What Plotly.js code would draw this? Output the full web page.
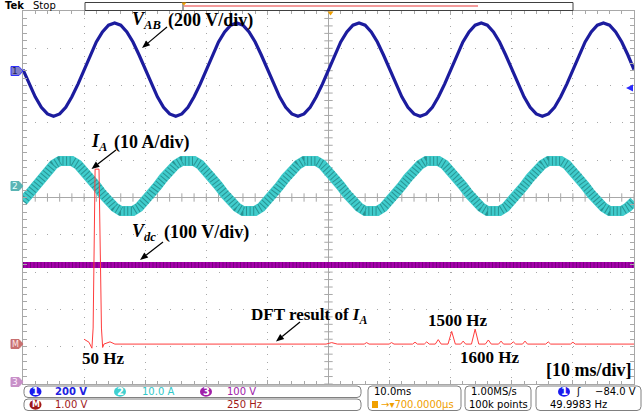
<!DOCTYPE html>
<html><head><meta charset="utf-8">
<script src="https://cdn.plot.ly/plotly-3.0.1.min.js"></script>
<style>html,body{margin:0;padding:0;background:#fff}#chart{width:644px;height:412px}</style>
</head><body><div id="chart"></div>
<script>
// ---------- data (in screen divisions) ----------
const t_ms = [0,1,2,3,4,5,6,7,8,9,10,11,12,13,14,15,16,17,18,19,20,21,22,23,24,25,26,27,28,29,30,31,32,33,34,35,36,37,38,39,40,41,42,43,44,45,46,47,48,49,50,51,52,53,54,55,56,57,58,59,60,61,62,63,64,65,66,67,68,69,70,71,72,73,74,75,76,77,78,79,80,81,82,83,84,85,86,87,88,89,90,91,92,93,94,95,96,97,98,99,100];
const vab_div = [3.43,3.04,2.70,2.42,2.24,2.18,2.24,2.42,2.70,3.04,3.43,3.82,4.17,4.44,4.62,4.68,4.62,4.44,4.17,3.82,
3.43,3.04,2.70,2.42,2.24,2.18,2.24,2.42,2.70,3.04,3.43,3.82,4.17,4.44,4.62,4.68,4.62,4.44,4.17,3.82,
3.43,3.04,2.70,2.42,2.24,2.18,2.24,2.42,2.70,3.04,3.43,3.82,4.17,4.44,4.62,4.68,4.62,4.44,4.17,3.82,
3.43,3.04,2.70,2.42,2.24,2.18,2.24,2.42,2.70,3.04,3.43,3.82,4.17,4.44,4.62,4.68,4.62,4.44,4.17,3.82,
3.43,3.04,2.70,2.42,2.24,2.18,2.24,2.42,2.70,3.04,3.43,3.82,4.17,4.44,4.62,4.68,4.62,4.44,4.17,3.82,3.43];
const ia_div = [-0.10,0.09,0.31,0.53,0.72,0.88,0.98,1.01,0.98,0.88,0.72,0.53,0.31,0.09,-0.10,-0.26,-0.36,-0.39,-0.36,-0.26,
-0.10,0.09,0.31,0.53,0.72,0.88,0.98,1.01,0.98,0.88,0.72,0.53,0.31,0.09,-0.10,-0.26,-0.36,-0.39,-0.36,-0.26,
-0.10,0.09,0.31,0.53,0.72,0.88,0.98,1.01,0.98,0.88,0.72,0.53,0.31,0.09,-0.10,-0.26,-0.36,-0.39,-0.36,-0.26,
-0.10,0.09,0.31,0.53,0.72,0.88,0.98,1.01,0.98,0.88,0.72,0.53,0.31,0.09,-0.10,-0.26,-0.36,-0.39,-0.36,-0.26,
-0.10,0.09,0.31,0.53,0.72,0.88,0.98,1.01,0.98,0.88,0.72,0.53,0.31,0.09,-0.10,-0.26,-0.36,-0.39,-0.36,-0.26,-0.10];
const t_vdc = [0,10,20,30,40,50,60,70,80,90,100];
const vdc_div = [-1.81,-1.81,-1.81,-1.81,-1.81,-1.81,-1.81,-1.81,-1.81,-1.81,-1.81];
const dft_hz = [0,20,32,37,45,61,71,76,81,106,126,
  500,990,1013,1036,1146,1156,1166,1248,1258,1268,1344,1354,1364,1392,1402,1412,1437,1449,1461,
  1489,1504,1519,1541,1551,1561,1585,1600,1615,1642,1654,1666,1696,1706,1716,1746,1756,1766,
  1794,1804,1814,1889,1899,1909,1990,2000,2010,2250];
const dft_div = [-3.80,-3.88,-4.04,-3.50,0.76,0.76,-3.50,-4.02,-3.93,-3.87,-3.93,
  -3.93,-3.93,-3.89,-3.93,-3.93,-3.89,-3.93,-3.93,-3.89,-3.93,-3.93,-3.88,-3.93,-3.93,-3.87,-3.93,-3.93,-3.81,-3.93,
  -3.93,-3.59,-3.93,-3.93,-3.85,-3.93,-3.93,-3.53,-3.93,-3.93,-3.82,-3.93,-3.93,-3.85,-3.93,-3.93,-3.87,-3.93,
  -3.93,-3.85,-3.93,-3.93,-3.87,-3.93,-3.93,-3.88,-3.93,-3.93];

// ---------- geometry helpers (pixel -> paper) ----------
const L=23,R=634,T=11,B=384;
const X = x => (x-L)/(R-L);
const Y = y => (B-y)/(B-T);
const GRID = '#a8a8a8';

// centre-line tick marks (decoration)
const cx=[], cy=[], vx=[], vy=[];
for(let i=0;i<=50;i++){cx.push(i*2);cy.push(0);}
for(let i=0;i<=50;i++){vx.push(50);vy.push(-5+i*0.2);}

const traces = [
  {x:cx,y:cy,mode:'markers',marker:{symbol:'line-ns',size:6,line:{color:GRID,width:1}},hoverinfo:'skip'},
  {x:vx,y:vy,mode:'markers',marker:{symbol:'line-ew',size:6,line:{color:GRID,width:1}},hoverinfo:'skip'},
  {x:t_vdc,y:vdc_div,mode:'lines',line:{color:'#a400aa',width:6},hoverinfo:'skip'},
  {x:t_vdc,y:vdc_div,mode:'lines',line:{color:'rgba(70,0,80,0.45)',width:6,dash:'1px,2.5px'},hoverinfo:'skip'},
  {x:dft_hz,y:dft_div,xaxis:'x2',mode:'lines',line:{color:'#ff3c3c',width:1},hoverinfo:'skip'},
  {x:t_ms,y:ia_div,mode:'lines',line:{color:'#40cccc',width:10},hoverinfo:'skip'},
  {x:t_ms,y:ia_div,mode:'lines',line:{color:'rgba(20,100,100,0.55)',width:9,dash:'1px,2.6px'},hoverinfo:'skip'},
  {x:t_ms,y:vab_div,mode:'lines',line:{color:'#1c1c9e',width:3.2},hoverinfo:'skip'}
];

function rr(x0,y0,x1,y1,r){
  return `M${X(x0+r)},${Y(y0)} L${X(x1-r)},${Y(y0)} Q${X(x1)},${Y(y0)} ${X(x1)},${Y(y0+r)} L${X(x1)},${Y(y1-r)} Q${X(x1)},${Y(y1)} ${X(x1-r)},${Y(y1)} L${X(x0+r)},${Y(y1)} Q${X(x0)},${Y(y1)} ${X(x0)},${Y(y1-r)} L${X(x0)},${Y(y0+r)} Q${X(x0)},${Y(y0)} ${X(x0+r)},${Y(y0)} Z`;
}
function pent(yc,fill,line){
  const x0=11,x1=19,x2=23,h=4.5;
  return {type:'path',xref:'paper',yref:'paper',path:`M${X(x0)},${Y(yc-h)} L${X(x1)},${Y(yc-h)} L${X(x2)},${Y(yc)} L${X(x1)},${Y(yc+h)} L${X(x0)},${Y(yc+h)} Z`,fillcolor:fill,line:{color:line,width:1}};
}
function pill(xc,yc,fill){
  return {type:'circle',xref:'paper',yref:'paper',x0:X(xc-6),x1:X(xc+6),y0:Y(yc+5),y1:Y(yc-5),fillcolor:fill,line:{width:0}};
}
function tri(pts,fill){
  return {type:'path',xref:'paper',yref:'paper',path:'M'+pts.map(p=>X(p[0])+','+Y(p[1])).join(' L')+' Z',fillcolor:fill,line:{width:0}};
}
// arrow drawn as a line + filled head (head at hx,hy; tail at tx,ty)
function arrowShapes(hx,hy,tx,ty){
  const dx=hx-tx, dy=hy-ty, len=Math.hypot(dx,dy), ux=dx/len, uy=dy/len;
  const hl=8, hw=3.2;
  const bx=hx-ux*hl, by=hy-uy*hl;
  return [
    {type:'line',xref:'paper',yref:'paper',x0:X(tx),y0:Y(ty),x1:X(bx),y1:Y(by),line:{color:'#000',width:1.2}},
    tri([[hx,hy],[bx-uy*hw,by+ux*hw],[bx+uy*hw,by-ux*hw]],'#000')
  ];
}

const shapes = [
  // centre cross lines
  {type:'line',xref:'x',yref:'y',x0:0,x1:100,y0:0,y1:0,line:{color:GRID,width:1},layer:'below'},
  {type:'line',xref:'x',yref:'y',x0:50,x1:50,y0:-5,y1:5,line:{color:GRID,width:1},layer:'below'},
  // record bar
  {type:'rect',xref:'paper',yref:'paper',x0:X(85),x1:X(573),y0:Y(10.5),y1:Y(2.5),line:{color:'#404040',width:1},fillcolor:'#fff'},
  {type:'line',xref:'paper',yref:'paper',x0:X(183),x1:X(183),y0:Y(10.5),y1:Y(2.5),line:{color:'#404040',width:1}},
  {type:'line',xref:'paper',yref:'paper',x0:X(184),x1:X(478),y0:Y(6),y1:Y(6),line:{color:'#f07878',width:1.5}},
  tri([[181.5,2.5],[186.5,2.5],[184,5.5]],'#f0a000'),
  tri([[327.5,11.5],[333.5,11.5],[330.5,15.5]],'#f0a000'),
  // trigger level arrow (right)
  tri([[626,88],[633,84.5],[633,91.5]],'#2a2aff'),
  // channel markers
  pent(71,'#8080c8','#3030ff'),
  pent(186,'#5ab4b4','#5ab4b4'),
  pent(344,'#c87070','#c87070'),
  pent(382,'#c890c8','#c890c8'),
  // status bar boxes
  {type:'path',xref:'paper',yref:'paper',path:rr(24,386,361,397.5,4),line:{color:'#808080',width:1},fillcolor:'#fff'},
  {type:'path',xref:'paper',yref:'paper',path:rr(24,399,361,410.5,4),line:{color:'#808080',width:1},fillcolor:'#fff'},
  {type:'path',xref:'paper',yref:'paper',path:rr(368,386,461,410.5,4),line:{color:'#808080',width:1},fillcolor:'#fff'},
  {type:'path',xref:'paper',yref:'paper',path:rr(465,386,531,410.5,4),line:{color:'#808080',width:1},fillcolor:'#fff'},
  {type:'path',xref:'paper',yref:'paper',path:rr(536,386,641,410.5,4),line:{color:'#808080',width:1},fillcolor:'#fff'},
  pill(35.5,391.7,'#1a1aee'),
  pill(120,391.7,'#40d0d0'),
  pill(206,391.7,'#a020a8'),
  pill(35.5,404.7,'#a01818'),
  pill(564,391.7,'#1a1aee'),
  {type:'rect',xref:'paper',yref:'paper',x0:X(372),x1:X(378),y0:Y(408),y1:Y(401),fillcolor:'#f0a000',line:{width:0}}
].concat(arrowShapes(142,48,167,27), arrowShapes(91.5,169,116,150), arrowShapes(140,260,163,242), arrowShapes(276,341.5,300,322));

const SERIF='Liberation Serif, Times New Roman, serif';
const SANS='DejaVu Sans, sans-serif';
function txt(x,y,text,o){
  return Object.assign({xref:'paper',yref:'paper',x:X(x),y:Y(y),text:text,showarrow:false,xanchor:'left',yanchor:'middle',
    font:{family:SERIF,size:18,color:'#000'}},o||{});
}
function st(x,y,text,color,o){
  return txt(x,y,text,Object.assign({font:{family:SANS,size:10,color:color}},o||{}));
}

const annotations = [
  txt(3,6,'<b>Tek</b>',{font:{family:SANS,size:10,color:'#000'}}),
  txt(31,6,'Stop',{font:{family:SANS,size:10,color:'#000'}}),
  txt(130,20,'<b><i>V</i><sub><i>AB</i></sub></b>'),
  txt(166,20,'<b>(200 V/div)</b>'),
  txt(89,142.5,'<b><i>I</i><sub><i>A</i></sub></b>'),
  txt(112,142.5,'<b>(10 A/div)</b>'),
  txt(130,233,'<b><i>V</i><sub><i>dc</i></sub></b>'),
  txt(162,233,'<b>(100 V/div)</b>'),
  txt(249,316,'<b>DFT result of <i>I</i><sub><i>A</i></sub></b>',{font:{family:SERIF,size:17,color:'#000'}}),
  txt(426,320,'<b>1500 Hz</b>',{font:{family:SERIF,size:17,color:'#000'}}),
  txt(458,357,'<b>1600 Hz</b>',{font:{family:SERIF,size:17,color:'#000'}}),
  txt(80,358,'<b>50 Hz</b>',{font:{family:SERIF,size:17,color:'#000'}}),
  txt(544,370,'<b>[10 ms/div]</b>'),
  // channel marker labels
  txt(15,71,'1',{xanchor:'center',font:{family:SANS,size:9,color:'#202060'}}),
  txt(15,186,'2',{xanchor:'center',font:{family:SANS,size:9,color:'#e8ffff'}}),
  txt(15,344,'M',{xanchor:'center',font:{family:SANS,size:8,color:'#ffe8e8'}}),
  txt(15,382,'3',{xanchor:'center',font:{family:SANS,size:9,color:'#fff0ff'}}),
  // status bar
  st(35.5,391.7,'<b>1</b>','#fff',{xanchor:'center'}),
  st(53,391.7,'<b>200 V</b>','#2020e0'),
  st(120,391.7,'<b>2</b>','#fff',{xanchor:'center'}),
  st(140,391.7,'10.0 A','#30c8c8'),
  st(206,391.7,'<b>3</b>','#fff',{xanchor:'center'}),
  st(225,391.7,'100 V','#a020a8'),
  st(35.5,404.7,'<b>M</b>','#fff',{xanchor:'center',font:{family:SANS,size:8,color:'#fff'}}),
  st(53,404.7,'1.00 V','#a01818'),
  st(225,404.7,'250 Hz','#a01818'),
  st(372,391.7,'10.0ms','#000'),
  st(379,404.7,'→▾700.0000µs','#f0a000'),
  st(469,391.7,'1.00MS/s','#000'),
  st(467,404.7,'100k points','#000'),
  st(564,391.7,'<b>1</b>','#fff',{xanchor:'center'}),
  st(574,391.7,'ʃ','#000'),
  st(638,391.7,'−84.0 V','#000',{xanchor:'right'}),
  st(548,404.7,'49.9983 Hz','#000')
];

const axisCommon = {showticklabels:false,zeroline:false,showline:true,mirror:'allticks',linecolor:GRID,linewidth:1,
  ticks:'inside',ticklen:4,tickcolor:GRID,tickwidth:1,showgrid:true,gridcolor:GRID,gridwidth:1,fixedrange:true};

const layout = {
  width:644,height:412,margin:{l:L,r:644-R,t:T,b:412-B,pad:0},
  paper_bgcolor:'#fff',plot_bgcolor:'#fff',showlegend:false,
  xaxis:Object.assign({},axisCommon,{range:[0,100],tick0:0,dtick:10,griddash:'1px,6.46px',
    minor:{dtick:2,ticks:'inside',ticklen:3,tickcolor:GRID,showgrid:false}}),
  yaxis:Object.assign({},axisCommon,{range:[-5,5],tick0:0,dtick:1,griddash:'1px,11.22px',
    minor:{dtick:0.2,ticks:'inside',ticklen:3,tickcolor:GRID,showgrid:false}}),
  xaxis2:{overlaying:'x',range:[-250,2250],visible:false,fixedrange:true},
  shapes:shapes,annotations:annotations
};
Plotly.newPlot('chart',traces,layout,{displayModeBar:false,staticPlot:true});
</script></body></html>
